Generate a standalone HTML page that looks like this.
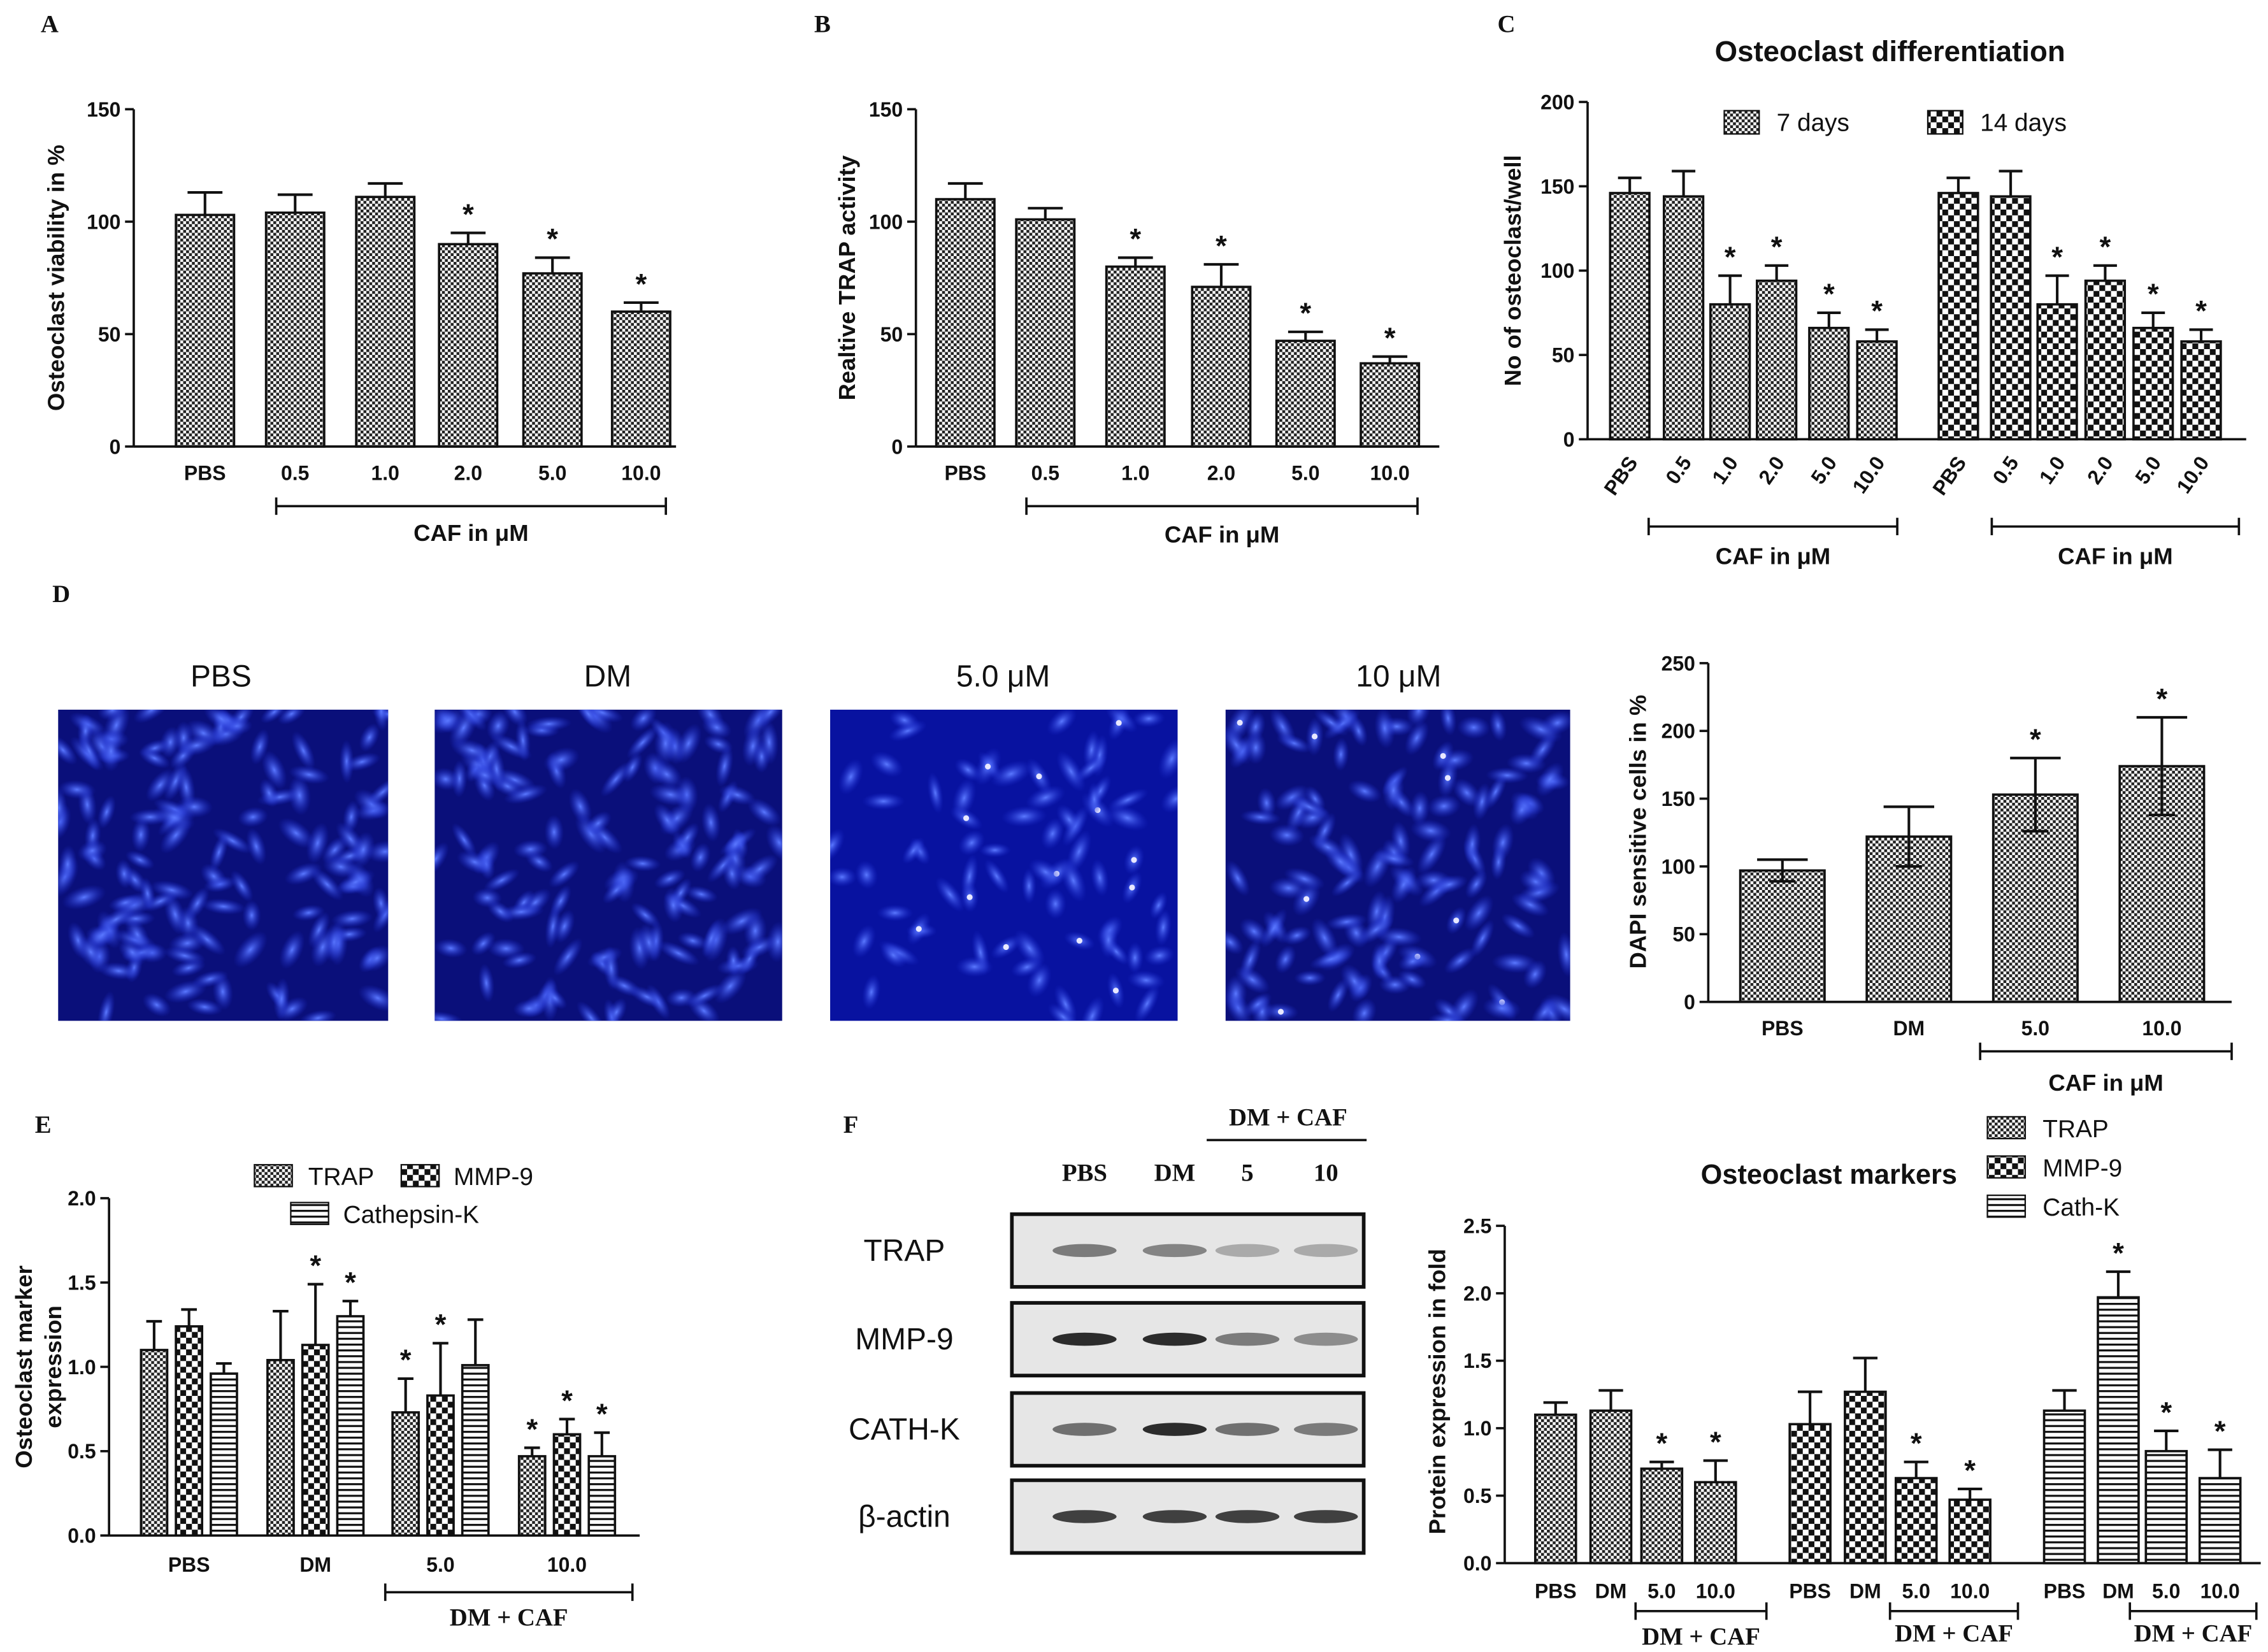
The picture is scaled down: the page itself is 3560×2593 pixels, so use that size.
<!DOCTYPE html>
<html><head><meta charset="utf-8"><style>
html,body{margin:0;padding:0;background:#fff}
svg{display:block}
text{font-family:"Liberation Sans",Arial,sans-serif;fill:#111}
.pl{font-family:"Liberation Serif",serif;font-weight:bold;font-size:17px}
.tk{font-size:14px;font-weight:bold}
.ax{font-size:16px;font-weight:bold}
</style></head><body>
<svg id="s" width="3560" height="2593" viewBox="0 0 1560 1136" xmlns="http://www.w3.org/2000/svg">
<defs>
<pattern id="pf" width="4" height="4" patternUnits="userSpaceOnUse"><rect width="4" height="4" fill="#fff"/><rect width="2" height="2" fill="#222"/><rect x="2" y="2" width="2" height="2" fill="#222"/></pattern>
<pattern id="pc" width="8" height="8" patternUnits="userSpaceOnUse"><rect width="8" height="8" fill="#fff"/><rect width="4" height="4" fill="#111"/><rect x="4" y="4" width="4" height="4" fill="#111"/></pattern>
<pattern id="ph" width="4" height="4" patternUnits="userSpaceOnUse"><rect width="4" height="4" fill="#fff"/><rect width="4" height="1.4" fill="#111"/></pattern>
<radialGradient id="cell"><stop offset="0" stop-color="#5a78ff"/><stop offset="1" stop-color="#1a2ad0" stop-opacity="0"/></radialGradient>
</defs>
<g id="root"></g>
</svg>
<script>
// ---- data ----
const aCats=["PBS","0.5","1.0","2.0","5.0","10.0"];
const aVals=[103,104,111,90,77,60];
const aErr=[113,112,117,95,84,64];
const aStar=[0,0,0,1,1,1];
const bVals=[110,101,80,71,47,37];
const bErr=[117,106,84,81,51,40];
const bStar=[0,0,1,1,1,1];
const c7Vals=[146,144,80,94,66,58];
const c7Err=[155,159,97,103,75,65];
const c14Vals=[146,144,80,94,66,58];
const c14Err=[155,159,97,103,75,65];
const cStar=[0,0,1,1,1,1];
const dCats=["PBS","DM","5.0","10.0"];
const dVals=[97,122,153,174];
const dErr=[105,144,180,210];
const dStar=[0,0,1,1];
const eCats=["PBS","DM","5.0","10.0"];
const eTrap=[1.10,1.04,0.73,0.47];
const eTrapErr=[1.27,1.33,0.93,0.52];
const eMmp=[1.24,1.13,0.83,0.60];
const eMmpErr=[1.34,1.49,1.14,0.69];
const eCath=[0.96,1.30,1.01,0.47];
const eCathErr=[1.02,1.39,1.28,0.61];
const eTrapStar=[0,0,1,1],eMmpStar=[0,1,1,1],eCathStar=[0,1,0,1];
const fCats=["PBS","DM","5.0","10.0"];
const fTrap=[1.10,1.13,0.70,0.60];
const fTrapErr=[1.19,1.28,0.75,0.76];
const fMmp=[1.03,1.27,0.63,0.47];
const fMmpErr=[1.27,1.52,0.75,0.55];
const fCath=[1.13,1.97,0.83,0.63];
const fCathErr=[1.28,2.16,0.98,0.84];
const fStar=[0,0,1,1],fCathStar=[0,1,1,1];
const aTicks=[0,50,100,150],cTicks=[0,50,100,150,200],dTicks=[0,50,100,150,200,250];
const eTicks=[0,0.5,1.0,1.5,2.0],fTicks=[0,0.5,1.0,1.5,2.0,2.5];

const NS="http://www.w3.org/2000/svg",root=document.getElementById('root');
function el(t,a,p){const e=document.createElementNS(NS,t);for(const k in a)e.setAttribute(k,a[k]);(p||root).appendChild(e);return e;}
function tx(x,y,s,cls,extra,p){const e=el('text',Object.assign({x:x,y:y,'text-anchor':'middle'},cls?{class:cls}:{},extra||{}),p);e.textContent=s;return e;}
function lin(x1,y1,x2,y2,w,p){return el('line',{x1:x1,y1:y1,x2:x2,y2:y2,stroke:'#111','stroke-width':w||1.6},p);}
function yaxis(x,y0,y1,vmax,ticks,fmt){const g=el('g',{});
 lin(x,y1,x,y0,1.6,g);const sc=v=>y0-(y0-y1)*v/vmax;
 ticks.forEach(t=>{lin(x-6,sc(t),x,sc(t),1.6,g);tx(x-9,sc(t)+5,fmt?t.toFixed(1):String(t),'tk',{'text-anchor':'end'},g);});return sc;}
function bar(cx,w,v,e,sc,fill,star,name){const g=el('g',{});
 const y=sc(v),ye=sc(e);lin(cx,y,cx,ye,1.8,g);lin(cx-w*0.3,ye,cx+w*0.3,ye,1.8,g);
 el('rect',{x:cx-w/2,y:y,width:w,height:sc(0)-y,fill:'url(#'+fill+')',stroke:'#111','stroke-width':1.6},g);
 if(star)tx(cx,ye-6,'*','',{'font-size':'20','font-weight':'bold'},g);}
function bracket(x1,x2,y,label,ly,serif){lin(x1,y,x2,y,1.6);lin(x1,y-6,x1,y+6,1.6);lin(x2,y-6,x2,y+6,1.6);
 if(label){const t=tx((x1+x2)/2,ly,label,serif?'pl':'ax',serif?{'font-size':'15'}:{});}}
function ylab(x,y,s,extra){const t=tx(x,y,s,'ax',Object.assign({transform:`rotate(-90 ${x} ${y})`},extra||{}));return t;}
function plab(x,y,s){const t=tx(x,y,s,'pl',{'text-anchor':'start'});}

// Panel A
plab(28,22,'A');
let sc=yaxis(92,307,75,150,aTicks);
lin(92,307,465,307);
const aX=[141,203,265,322,380,441];
aCats.forEach((c,i)=>{bar(aX[i],40,aVals[i],aErr[i],sc,'pf',aStar[i],'bar-a-'+c);tx(aX[i],330,c,'tk');});
bracket(190,458,348,'CAF in μM',372);
ylab(44,191,'Osteoclast viability in %');
// Panel B
plab(560,22,'B');
sc=yaxis(630,307,75,150,aTicks);
lin(630,307,990,307);
const bX=[664,719,781,840,898,956];
aCats.forEach((c,i)=>{bar(bX[i],40,bVals[i],bErr[i],sc,'pf',bStar[i],'bar-b-'+c);tx(bX[i],330,c,'tk');});
bracket(706,975,348,'CAF in μM',373);
ylab(588,191,'Realtive TRAP activity');
// Panel C
plab(1030,22,'C');
tx(1300,42,'Osteoclast differentiation','',{'font-size':'20','font-weight':'bold'});
sc=yaxis(1092,302,70,200,cTicks);
lin(1092,302,1545,302);
const c1X=[1121,1158,1190,1222,1258,1291],c2X=[1347,1383,1415,1448,1481,1514];
aCats.forEach((c,i)=>{bar(c1X[i],27,c7Vals[i],c7Err[i],sc,'pf',cStar[i],'bar-7d-'+c);
 bar(c2X[i],27,c14Vals[i],c14Err[i],sc,'pc',cStar[i],'bar-14d-'+c);
 [c1X[i],c2X[i]].forEach(x=>tx(x+6,318,c,'tk',{'text-anchor':'end',transform:`rotate(-55 ${x+6} 318)`}));});
bracket(1134,1305,362,'CAF in μM',388);bracket(1370,1540,362,'CAF in μM',388);
ylab(1046,186,'No of osteoclast/well');
el('rect',{x:1186,y:76,width:24,height:16,fill:'url(#pf)',stroke:'#111'});tx(1222,90,'7 days','',{'text-anchor':'start','font-size':'17'});
el('rect',{x:1326,y:76,width:24,height:16,fill:'url(#pc)',stroke:'#111'});tx(1362,90,'14 days','',{'text-anchor':'start','font-size':'17'});
// Panel D
plab(36,414,'D');
const imgs=[[40,267,'PBS',152,70,0],[299,538,'DM',418,70,0],[571,810,'5.0 μM',690,40,1],[843,1080,'10 μM',962,65,1]];
let seed=7;const rnd=()=>{seed=(seed*9301+49297)%233280;return seed/233280;};
imgs.forEach((m,k)=>{const g=el('g',{});
 el('rect',{x:m[0],y:488,width:m[1]-m[0],height:214,fill:k==2?'#0812a0':'#0a0f7a'},g);
 const cp=el('clipPath',{id:'cp'+k},g);el('rect',{x:m[0],y:488,width:m[1]-m[0],height:214},cp);
 const gg=el('g',{'clip-path':'url(#cp'+k+')'},g);
 for(let i=0;i<m[4]*2;i++){const x=m[0]+rnd()*(m[1]-m[0]),y=488+rnd()*214;el('ellipse',{cx:x,cy:y,rx:5+rnd()*3,ry:10+rnd()*6,fill:'url(#cell)',transform:`rotate(${rnd()*180} ${x} ${y})`},gg);
  if(m[5]&&rnd()<0.08)el('circle',{cx:x,cy:y,r:2,fill:'#e8e8ff'},gg);}
 tx(m[3],472,m[2],'',{'font-size':'21'});});
sc=yaxis(1175,689,456,250,dTicks);
lin(1175,689,1535,689);
const dX=[1226,1313,1400,1487];
dCats.forEach((c,i)=>{bar(dX[i],58,dVals[i],dErr[i],sc,'pf',dStar[i],'bar-d-'+c);tx(dX[i],712,c,'tk');
 const lo=2*dVals[i]-dErr[i];lin(dX[i],sc(dVals[i]),dX[i],sc(lo),1.8);lin(dX[i]-9,sc(lo),dX[i]+9,sc(lo),1.8);});
bracket(1362,1535,723,'CAF in μM',750);
ylab(1132,572,'DAPI sensitive cells in %');
// Panel E
plab(24,779,'E');
sc=yaxis(75,1056,824,2.0,eTicks,1);
lin(75,1056,440,1056);
const eX=[130,217,303,390];
eCats.forEach((c,i)=>{bar(eX[i]-24,18,eTrap[i],eTrapErr[i],sc,'pf',eTrapStar[i],'bar-e-trap-'+c);
 bar(eX[i],18,eMmp[i],eMmpErr[i],sc,'pc',eMmpStar[i],'bar-e-mmp9-'+c);
 bar(eX[i]+24,18,eCath[i],eCathErr[i],sc,'ph',eCathStar[i],'bar-e-cath-'+c);tx(eX[i],1081,c,'tk');});
bracket(265,435,1095,'DM + CAF',1118,1);
ylab(22,940,'Osteoclast marker');ylab(42,940,'expression');
el('rect',{x:175,y:801,width:26,height:15,fill:'url(#pf)',stroke:'#111'});tx(212,815,'TRAP','',{'text-anchor':'start','font-size':'17'});
el('rect',{x:276,y:801,width:26,height:15,fill:'url(#pc)',stroke:'#111'});tx(312,815,'MMP-9','',{'text-anchor':'start','font-size':'17'});
el('rect',{x:200,y:827,width:26,height:15,fill:'url(#ph)',stroke:'#111'});tx(236,841,'Cathepsin-K','',{'text-anchor':'start','font-size':'17'});
// Panel F blot
plab(580,779,'F');
[['PBS',746],['DM',808],['5',858],['10',912]].forEach(l=>tx(l[1],812,l[0],'pl',{'font-size':'19'}));
tx(886,774,'DM + CAF','pl',{'font-size':'16'});lin(830,784,940,784,1.6);
const rows=[['TRAP',835,[.55,.5,.3,.3]],['MMP-9',896,[.95,.95,.55,.45]],['CATH-K',958,[.6,.95,.6,.55]],['β-actin',1018,[.85,.85,.85,.85]]];
const laneX=[746,808,858,912];
rows.forEach(r=>{const g=el('g',{});
 el('rect',{x:696,y:r[1],width:242,height:50,fill:'#e6e6e6',stroke:'#111','stroke-width':2.5},g);
 laneX.forEach((x,j)=>el('ellipse',{cx:x,cy:r[1]+25,rx:22,ry:4.5,fill:'#222','fill-opacity':r[2][j]},g));
 tx(622,r[1]+32,r[0],'',{'font-size':'21'});});
// Panel F chart
tx(1258,814,'Osteoclast markers','',{'font-size':'19','font-weight':'bold'});
sc=yaxis(1035,1075,843,2.5,fTicks,1);
lin(1035,1075,1555,1075);
const fX=[[1070,1108,1143,1180],[1245,1283,1318,1355],[1420,1457,1490,1527]];
fCats.forEach((c,i)=>{bar(fX[0][i],28,fTrap[i],fTrapErr[i],sc,'pf',fStar[i],'bar-f-trap-'+c);
 bar(fX[1][i],28,fMmp[i],fMmpErr[i],sc,'pc',fStar[i],'bar-f-mmp9-'+c);
 bar(fX[2][i],28,fCath[i],fCathErr[i],sc,'ph',fCathStar[i],'bar-f-cath-'+c);
 fX.forEach(g=>tx(g[i],1099,c,'tk'));});
bracket(1125,1215,1108,'DM + CAF',1131,1);bracket(1300,1388,1108,'DM + CAF',1129,1);bracket(1465,1552,1108,'DM + CAF',1129,1);
ylab(994,957,'Protein expression in fold');
[['TRAP',781,'pf'],['MMP-9',808,'pc'],['Cath-K',835,'ph']].forEach(l=>{el('rect',{x:1367,y:l[1]-13,width:26,height:15,fill:'url(#'+l[2]+')',stroke:'#111'});tx(1405,l[1]+1,l[0],'',{'text-anchor':'start','font-size':'17'});});
</script>
</body></html>
